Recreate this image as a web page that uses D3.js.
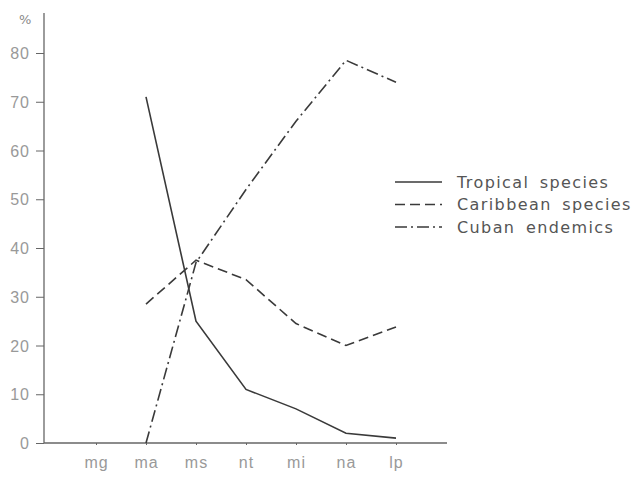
<!DOCTYPE html>
<html>
<head>
<meta charset="utf-8">
<script src="https://cdn.jsdelivr.net/npm/d3@7"></script>
<style>
  body { margin: 0; background: #fff; }
  svg { font-family: "DejaVu Sans", sans-serif; }
  .axis text { fill: #999; font-size: 16px; letter-spacing: 1px; }
  .axis line, .axis path { stroke: #666; }
  .series { fill: none; stroke: #3a3a3a; stroke-width: 1.6; }
</style>
</head>
<body>
<script>
// zones along the x axis
var categories = ["mg", "ma", "ms", "nt", "mi", "na", "lp"];
var yTicks = [0, 10, 20, 30, 40, 50, 60, 70, 80];

// percentages (null = no value)
var tropical  = [null, 71, 25, 11, 7, 2, 1];
var caribbean = [null, 28.5, 37.5, 33.5, 24.5, 20, 23.8];
var cuban     = [null, 0, 37, 52, 66, 78.5, 74];

var seriesNames = ["Tropical species", "Caribbean species", "Cuban endemics"];
var dashes = ["none", "10,5", "12,4,2,4"];

var width = 643, height = 482;

var svg = d3.select("body").append("svg")
   .attr("width", width)
   .attr("height", height);

var x = d3.scalePoint().domain(categories).range([96, 396]);
var y = d3.scaleLinear().domain([0, 80]).range([443, 53]);

// y axis
var yAxis = d3.axisLeft(y).tickValues(yTicks).tickSize(8).tickPadding(6);
var gy = svg.append("g")
   .attr("class", "axis")
   .attr("transform", "translate(44,0)")
   .call(yAxis);
gy.select(".domain").remove();
gy.append("line")
   .attr("x1", 0).attr("x2", 0)
   .attr("y1", 13).attr("y2", 443)
   .attr("stroke", "#555").attr("stroke-width", 1.3);
gy.selectAll(".tick text").attr("dy", "0.35em");

svg.append("text")
   .attr("x", 19).attr("y", 24)
   .attr("fill", "#8a8a8a")
   .style("font-size", "13px")
   .text("%");

// x axis
var xAxis = d3.axisBottom(x).tickSize(2).tickPadding(9);
var gx = svg.append("g")
   .attr("class", "axis")
   .attr("transform", "translate(0,443)")
   .call(xAxis);
gx.select(".domain").remove();
gx.append("line")
   .attr("x1", 44).attr("x2", 447)
   .attr("stroke", "#555").attr("stroke-width", 1.3);
gx.selectAll(".tick text").attr("dy", "0.9em");

// lines
var line = d3.line()
   .defined(function(d) { return d != null; })
   .x(function(d, i) { return x(categories[i]); })
   .y(function(d) { return y(d); });

[tropical, caribbean, cuban].forEach(function(values, k) {
   svg.append("path")
      .datum(values)
      .attr("class", "series")
      .attr("stroke-dasharray", dashes[k])
      .attr("d", line);
});

// legend
var legend = svg.append("g").attr("transform", "translate(395,182)");
seriesNames.forEach(function(name, k) {
   var row = legend.append("g").attr("transform", "translate(0," + (k * 22.5) + ")");
   row.append("line")
      .attr("x1", 0).attr("x2", 47)
      .attr("class", "series")
      .attr("stroke-dasharray", dashes[k]);
   row.append("text")
      .attr("x", 62).attr("dy", "0.35em")
      .attr("fill", "#555")
      .style("font-size", "16px")
      .style("letter-spacing", "1.4px")
      .style("word-spacing", "4px")
      .text(name);
});
</script>
</body>
</html>
